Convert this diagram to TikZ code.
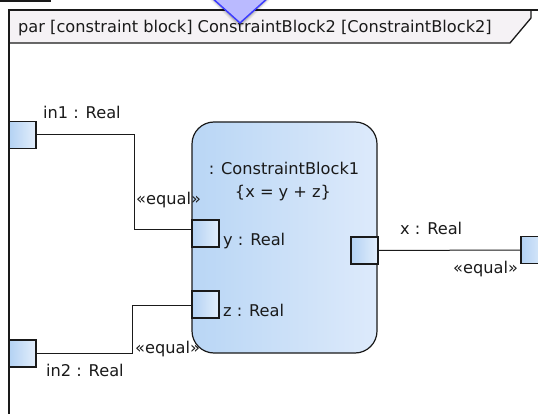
\documentclass[tikz,border=0pt]{standalone}
\usepackage{fontspec}
\setmainfont{DejaVu Sans}
\usetikzlibrary{calc}
\definecolor{portL}{HTML}{B3D2F3}
\definecolor{portR}{HTML}{E3EEFC}
\definecolor{blockL}{HTML}{B9D6F5}
\definecolor{blockR}{HTML}{DDEAFB}
\definecolor{headfill}{HTML}{F5F2F5}
\definecolor{markfill}{HTML}{BABAFF}
\definecolor{markline}{HTML}{3C3CFF}
\definecolor{ink}{HTML}{1A1A1A}
\tikzset{
  lbl/.style={inner sep=0pt, anchor=base west, text=ink, font=\fontsize{16.2}{19}\selectfont},
  port/.style={draw=ink, line width=1.2pt, minimum width=27pt, minimum height=27pt,
    inner sep=0pt, left color=portL, right color=portR},
  wire/.style={draw=ink, line width=1pt},
  cblock/.style={draw=ink, line width=1.2pt, rounded corners=22pt, minimum width=185pt,
    minimum height=231pt, inner sep=0pt, left color=blockL, right color=blockR},
}
\begin{document}
\begin{tikzpicture}[x=1pt, y=-1pt]
\clip (0,0) rectangle (538,414);
\useasboundingbox (0,0) rectangle (538,414);
\fill[white] (0,0) rectangle (538,414);

% fragment of a neighbouring element at the top left
\draw[ink, line width=1.2pt] (0,1) -- (50,1) -- (50,-3);

% diagram frame and its heading tab
\fill[headfill] (9,10) -- (531,10) -- (531,18) -- (510,43) -- (9,43) -- cycle;
\draw[ink, line width=1.3pt] (9,414) -- (9,10) -- (540,10);
\draw[ink, line width=1.3pt] (531,10) -- (531,18) -- (510,43) -- (9,43);
\node[lbl] (head) at (18,33) {par [constraint block] ConstraintBlock2 [ConstraintBlock2]};

% selection marker with its soft shadow
\foreach \w/\o in {7/0.05,5/0.08,3/0.12}{
  \draw[black, opacity=\o, line width=\w pt, line join=round] (213,-2) -- (240,24) -- (267,-2);
}
\filldraw[fill=markfill, draw=markline, line width=1.5pt, line join=round] (211,-3) -- (240,23) -- (269,-3) -- cycle;

% constraint property
\node[cblock] (blk) at (284.5,237.5) {};
\node[lbl, anchor=base] (btitle) at (284,175) {: ConstraintBlock1};
\node[lbl, anchor=base] (bcons) at (283,197) {\{x = y + z\}};

% ports
\node[port] (in1) at (22.5,135) {};
\node[port] (in2) at (22.5,353.5) {};
\node[port] (yport) at (205.5,233.5) {};
\node[port] (zport) at (205.5,304.5) {};
\node[port] (xport) at (364.5,250.5) {};
\node[port] (outx) at (534.5,250) {};

% port labels
\node[lbl] (in1l) at (43,119) {in1 : Real};
\node[lbl] (in2l) at (46,376) {in2 : Real};
\node[lbl] (yl) at (223,245) {y : Real};
\node[lbl] (zl) at (223,316) {z : Real};
\node[lbl] (xl) at (400,235) {x : Real};

% binding connectors
\coordinate (jy) at (134,230);
\coordinate (jz) at (132,305);
\draw[wire] (in1.east) -| (jy) -- (yport.west |- jy);
\draw[wire] (in2.east) -| (jz) -- (zport.west |- jz);
\draw[wire] (xport.east) -- (outx.west);

% connector stereotypes
\node[lbl] (eq1) at (136,205) {«equal»};
\node[lbl] (eq2) at (135,353) {«equal»};
\node[lbl] (eq3) at (453,273) {«equal»};
\end{tikzpicture}
\end{document}
